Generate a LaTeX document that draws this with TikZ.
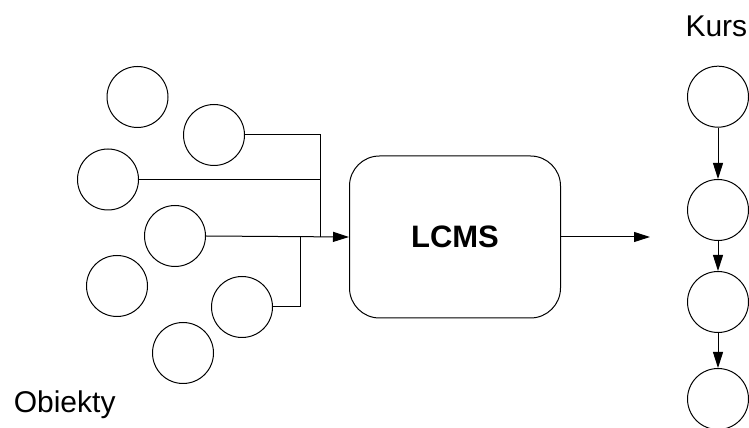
\documentclass[tikz,border=0pt]{standalone}
\usepackage{fontspec}
\setmainfont{Liberation Sans}
\usetikzlibrary{arrows.meta}
\begin{document}
\begin{tikzpicture}[x=1pt,y=1pt,line width=1pt,
  obj/.style={draw,circle,minimum size=61pt,inner sep=0pt},
  lbl/.style={inner sep=0pt,font=\fontsize{30}{36}\selectfont},
  arr/.style={-{Triangle[length=16pt,width=10pt]}},
  box/.style={draw,rounded corners=30pt,minimum width=211pt,minimum height=162pt,inner sep=0pt,font=\fontsize{31}{37}\selectfont\bfseries}]
\useasboundingbox (0,0) rectangle (749,428);
% left objects
\node[obj] (o1) at (137.5,331) {};
\node[obj] (o2) at (214,293) {};
\node[obj] (o3) at (108,248.5) {};
\node[obj] (o4) at (175,192) {};
\node[obj] (o5) at (117,142) {};
\node[obj] (o6) at (242,121) {};
\node[obj] (o7) at (183,75) {};
\node[lbl,anchor=base west] (obiekty) at (13.3,15) {Obiekty};
% LCMS
\node[box] (lcms) at (455,191) {LCMS};
% connectors
\coordinate (j) at (320,191);
\coordinate (k) at (300,191);
\draw (o2.east) -- (o2.east -| j) -- (j);
\draw (o3.east) -- (o3.east -| j);
\draw (o6.east) -- (o6.east -| k) -- (k);
\draw[arr] (o4.east) -- (lcms.west);
\coordinate (out) at (650,191);
\draw[arr] (lcms.east) -- (out);
% course
\node[obj] (k1) at (718,331.3) {};
\node[obj] (k2) at (718,218) {};
\node[obj] (k3) at (718,126) {};
\node[obj] (k4) at (718,29) {};
\node[lbl,anchor=base west] (kurs) at (685,391) {Kurs};
\draw[arr] (k1) -- (k2);
\draw[arr] (k2) -- (k3);
\draw[arr] (k3) -- (k4);
\end{tikzpicture}
\end{document}
